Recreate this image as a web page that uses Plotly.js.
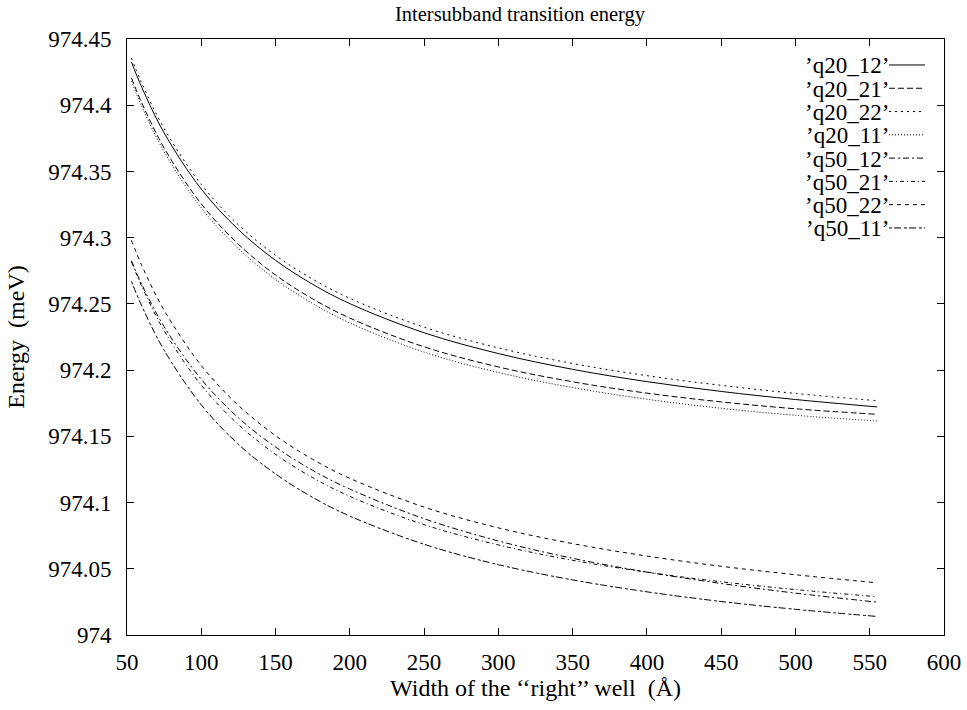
<!DOCTYPE html>
<html>
<head>
<meta charset="utf-8">
<script src="https://cdn.plot.ly/plotly-3.0.1.min.js"></script>
<style>html,body{margin:0;padding:0;background:#fff;}#chart{width:967px;height:710px;}</style>
</head>
<body>
<div id="chart"></div>
<script>
// Width of the right well (Å)
const widths = [53, 60, 75, 100, 125, 150, 175, 200, 250, 300, 350, 400, 450, 500, 555];

const q20_12 = [974.4326, 974.4134, 974.3791, 974.3367, 974.3061, 974.2829, 974.2648, 974.2502, 974.2282, 974.2125, 974.2006, 974.1913, 974.1839, 974.1778, 974.1722];
const q20_21 = [974.4206, 974.4016, 974.3677, 974.3255, 974.2950, 974.2718, 974.2538, 974.2393, 974.2176, 974.2024, 974.1912, 974.1826, 974.1760, 974.1708, 974.1666];
const q20_22 = [974.4357, 974.4166, 974.3824, 974.3402, 974.3097, 974.2866, 974.2687, 974.2542, 974.2324, 974.2168, 974.2050, 974.1958, 974.1885, 974.1824, 974.1769];
const q20_11 = [974.4181, 974.3990, 974.3649, 974.3225, 974.2918, 974.2685, 974.2503, 974.2356, 974.2136, 974.1982, 974.1868, 974.1780, 974.1712, 974.1659, 974.1616];
const q50_12 = [974.2826, 974.2646, 974.2328, 974.1931, 974.1640, 974.1419, 974.1243, 974.1102, 974.0878, 974.0710, 974.0579, 974.0475, 974.0389, 974.0316, 974.0248];
const q50_21 = [974.2818, 974.2631, 974.2298, 974.1886, 974.1589, 974.1364, 974.1188, 974.1047, 974.0833, 974.0680, 974.0564, 974.0475, 974.0402, 974.0343, 974.0289];
const q50_22 = [974.2980, 974.2789, 974.2452, 974.2035, 974.1733, 974.1505, 974.1326, 974.1183, 974.0966, 974.0809, 974.0690, 974.0596, 974.0519, 974.0455, 974.0394];
const q50_11 = [974.2670, 974.2483, 974.2150, 974.1738, 974.1440, 974.1216, 974.1039, 974.0898, 974.0685, 974.0531, 974.0416, 974.0326, 974.0253, 974.0194, 974.0140];

const seriesNames = ["\u2019q20_12\u2019", "\u2019q20_21\u2019", "\u2019q20_22\u2019", "\u2019q20_11\u2019",
                     "\u2019q50_12\u2019", "\u2019q50_21\u2019", "\u2019q50_22\u2019", "\u2019q50_11\u2019"];
const seriesValues = [q20_12, q20_21, q20_22, q20_11, q50_12, q50_21, q50_22, q50_11];

const xTickVals = [50, 100, 150, 200, 250, 300, 350, 400, 450, 500, 550, 600];
const xTickText = ["50", "100", "150", "200", "250", "300", "350", "400", "450", "500", "550", "600"];
const yTickVals = [974, 974.05, 974.1, 974.15, 974.2, 974.25, 974.3, 974.35, 974.4, 974.45];
const yTickText = ["974", "974.05", "974.1", "974.15", "974.2", "974.25", "974.3", "974.35", "974.4", "974.45"];

// styles
const dashes = ["solid", "6px,3px", "2px,4px", "1px,2px", "6px,3px,2px,3px", "4px,3px,1px,3px", "4px,4px", "3px,2px,7px,3px"];

const W = 967, H = 710;
const L = 127, R = 944, T = 39, B = 635.5;
const font = "Liberation Serif, Times New Roman, serif";

const traces = seriesValues.map((vals, i) => ({
  x: widths, y: vals, type: "scatter", mode: "lines", name: seriesNames[i],
  line: {color: "#000", width: 1, dash: dashes[i], shape: "spline", smoothing: 1},
  showlegend: false, hoverinfo: "x+y"
}));

const px2x = p => (p - L) / (R - L);
const px2y = p => (B - p) / (B - T);

const annotations = [];
const shapes = [];
seriesNames.forEach((n, i) => {
  const yc = 65 + i * 23.3;
  annotations.push({
    text: n, xref: "paper", yref: "paper", x: px2x(890), y: px2y(yc + 1),
    xanchor: "right", yanchor: "middle", showarrow: false, borderpad: 0,
    font: {family: font, size: 23, color: "#000"}
  });
  shapes.push({
    type: "line", xref: "paper", yref: "paper",
    x0: px2x(889), x1: px2x(925), y0: px2y(yc), y1: px2y(yc),
    line: {color: "#000", width: 1, dash: dashes[i]}
  });
});

const axisCommon = {
  showline: true, linecolor: "#000", linewidth: 1, mirror: "allticks",
  ticks: "inside", ticklen: 7, tickcolor: "#000", tickwidth: 1,
  showgrid: false, zeroline: false, tickmode: "array",
  tickfont: {family: font, size: 23, color: "#000"}
};

const layout = {
  width: W, height: H,
  margin: {l: L, r: W - R, t: T, b: H - B, pad: 0},
  paper_bgcolor: "#fff", plot_bgcolor: "#fff",
  font: {family: font, color: "#000"},
  title: {text: "Intersubband transition energy", font: {family: font, size: 20.5, color: "#000"},
          xref: "paper", x: px2x(520), xanchor: "center", yref: "container", y: 1 - 14 / H, yanchor: "middle"},
  xaxis: Object.assign({}, axisCommon, {
    range: [50, 600], tickvals: xTickVals, ticktext: xTickText, ticklabelstandoff: 6,
    title: {text: "Width of the \u2018\u2018right\u2019\u2019 well\u00a0 (\u00C5)", font: {family: font, size: 24, color: "#000"}, standoff: 4}
  }),
  yaxis: Object.assign({}, axisCommon, {
    range: [974, 974.45], tickvals: yTickVals, ticktext: yTickText, ticklabelstandoff: 10,
    title: {text: "Energy\u00a0 (meV)", font: {family: font, size: 24, color: "#000"}, standoff: 16}
  }),
  annotations: annotations,
  shapes: shapes,
  showlegend: false
};

Plotly.newPlot("chart", traces, layout, {staticPlot: true, displayModeBar: false});
</script>
</body>
</html>
